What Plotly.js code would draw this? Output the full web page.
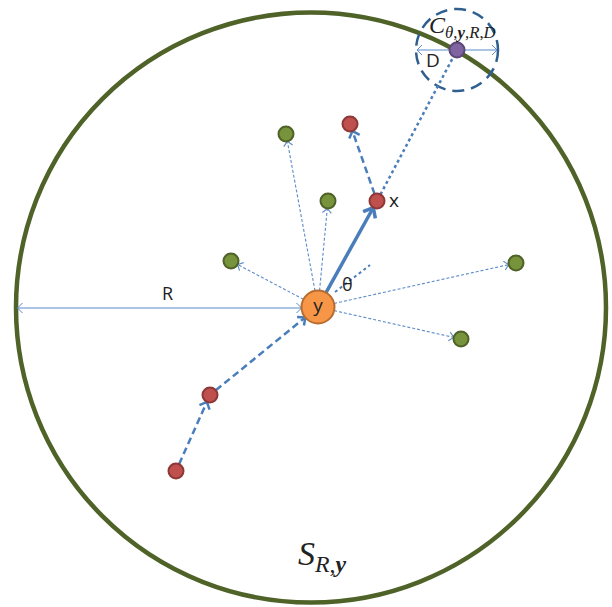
<!DOCTYPE html>
<html><head><meta charset="utf-8">
<script src="https://cdn.plot.ly/plotly-3.0.1.min.js"></script>
<style>html,body{margin:0;padding:0;background:#fff}</style>
</head><body><div id="chart" style="width:612px;height:607px"></div>
<script>
// Diagram coordinates (pixel-like units, y grows downward)
const sphereCenter = [311, 307.5];
const sphereRadius = 295;
const centerPoint = [318, 307];      // y
const centerRadius = 16.5;
const greenX = [286, 328, 231, 516, 461];
const greenY = [134, 201, 261, 263, 339];
const walkX = [176, 210];            // earlier red points leading to y
const walkY = [471, 395];
const xPoint = [377, 201];           // x
const jumpPoint = [350, 124];        // next red point
const capPoint = [457, 50];          // purple point on sphere
const capRadius = 41;
const thetaRay = [[335, 292], [370, 265]];
const pointRadius = 7.5;

const BLUE = '#4A7EBB', LBLUE = '#5B8BC9', CAPBLUE = '#2F5F8F';
const GREEN = '#77933C', GREEN_D = '#4F6228';
const RED = '#C0504D', RED_D = '#8C3836';

const traces = [];

function seg(p, q, r0, r1) {
  const dx = q[0] - p[0], dy = q[1] - p[1];
  const L = Math.hypot(dx, dy), ux = dx / L, uy = dy / L;
  return [[p[0] + ux * r0, p[1] + uy * r0], [q[0] - ux * r1, q[1] - uy * r1]];
}
function shorten(s, b) { return seg(s[0], s[1], 0, b); }
function addLine(s, width, dash, color) {
  traces.push({x: [s[0][0], s[1][0]], y: [s[0][1], s[1][1]], mode: 'lines', hoverinfo: 'skip',
               line: {color: color, width: width, dash: dash}});
}
// open chevron head at tip s[1], pointing from s[0] to s[1]
function addHead(s, len, half, width, color) {
  const dx = s[1][0] - s[0][0], dy = s[1][1] - s[0][1];
  const L = Math.hypot(dx, dy), ux = dx / L, uy = dy / L;
  const t = s[1], bx = t[0] - ux * len, by = t[1] - uy * len;
  traces.push({x: [bx - uy * half, t[0], bx + uy * half], y: [by + ux * half, t[1], by - ux * half],
               mode: 'lines', hoverinfo: 'skip', line: {color: color, width: width, dash: 'solid'}});
}

// thin dashed arrows y -> green points
for (let i = 0; i < greenX.length; i++) {
  const s = seg(centerPoint, [greenX[i], greenY[i]], centerRadius, pointRadius);
  addLine(shorten(s, 1), 1.1, '3px,2px', LBLUE);
  addHead(s, 4.5, 4.5, 1.1, LBLUE);
}
// dashed walk: red -> red -> y
const walk = [[walkX[0], walkY[0]], [walkX[1], walkY[1]]];
const s1 = seg(walk[0], walk[1], pointRadius, pointRadius);
const s2 = seg(walk[1], centerPoint, pointRadius, centerRadius);
const s3 = seg(xPoint, jumpPoint, pointRadius, pointRadius);
[s1, s2, s3].forEach(s => { addLine(shorten(s, 1.5), 2.5, '7px,4px', BLUE); addHead(s, 6, 5.5, 2.5, BLUE); });
// dotted x -> cap point
addLine(seg(xPoint, capPoint, pointRadius, pointRadius), 2.5, 'dot', BLUE);
// theta ray
addLine(thetaRay, 2, 'dot', BLUE);
// solid thick y -> x
const s5 = seg(centerPoint, xPoint, centerRadius, pointRadius);
addLine(shorten(s5, 2.5), 3.5, 'solid', BLUE);
addHead(s5, 8.5, 7, 3.5, BLUE);
// R double arrow
const rSeg = [[sphereCenter[0] - sphereRadius + 1.5, centerPoint[1] + 1], [centerPoint[0] - centerRadius, centerPoint[1] + 1]];
addLine(rSeg, 1, 'solid', LBLUE);
addHead(rSeg, 5, 5, 1, LBLUE);
addHead([rSeg[1], rSeg[0]], 5, 5, 1, LBLUE);
// D double arrow
const dSeg = [[capPoint[0] - capRadius + 1, capPoint[1]], [capPoint[0] + capRadius - 1, capPoint[1]]];
addLine(dSeg, 1, 'solid', LBLUE);
addHead(dSeg, 5, 5, 1, LBLUE);
addHead([dSeg[1], dSeg[0]], 5, 5, 1, LBLUE);

// points
traces.push({x: greenX, y: greenY, mode: 'markers', hoverinfo: 'skip',
  marker: {size: 15, color: GREEN, line: {color: GREEN_D, width: 2}}});
traces.push({x: walkX.concat([xPoint[0], jumpPoint[0]]), y: walkY.concat([xPoint[1], jumpPoint[1]]), mode: 'markers', hoverinfo: 'skip',
  marker: {size: 15, color: RED, line: {color: RED_D, width: 2}}});
traces.push({x: [capPoint[0]], y: [capPoint[1]], mode: 'markers', hoverinfo: 'skip',
  marker: {size: 15, color: '#8064A2', line: {color: '#5C4776', width: 2}}});
traces.push({x: [centerPoint[0]], y: [centerPoint[1]], mode: 'markers+text', text: ['y'], textposition: 'middle center',
  textfont: {family: 'Open Sans, Liberation Sans, sans-serif', size: 19, color: '#222'}, hoverinfo: 'skip',
  marker: {size: 33, color: '#F79646', line: {color: '#B66D31', width: 2}}});

const sans = 'Open Sans, Liberation Sans, sans-serif';
const serif = 'Liberation Serif, DejaVu Serif, serif';
function label(x, y, text, size, family) {
  return {x: x, y: y, xref: 'x', yref: 'y', text: text, showarrow: false,
          font: {family: family || sans, size: size, color: '#222'}};
}
const anns = [
  label(xPoint[0] + 17, xPoint[1] - 1, 'x', 19),
  label(347, 284, 'θ', 18),
  label(167, 293, 'R', 18),
  label(433, 60, 'D', 19),
  label(462, 27, '<i>C</i><sub><i>θ</i>,<b><i>y</i></b>,<i>R</i>,<i>D</i></sub>', 24, serif),
  label(322, 556, '<i>S</i><sub><i>R</i>,<b><i>y</i></b></sub>', 34, serif)
];

const layout = {
  width: 612, height: 607, margin: {l: 0, r: 0, t: 0, b: 0},
  paper_bgcolor: '#fff', plot_bgcolor: '#fff', showlegend: false,
  xaxis: {range: [0, 612], visible: false},
  yaxis: {range: [607, 0], visible: false},
  shapes: [
    {type: 'circle', xref: 'x', yref: 'y', layer: 'below',
     x0: sphereCenter[0] - sphereRadius, x1: sphereCenter[0] + sphereRadius,
     y0: sphereCenter[1] - sphereRadius, y1: sphereCenter[1] + sphereRadius,
     line: {color: GREEN_D, width: 4.5}},
    {type: 'circle', xref: 'x', yref: 'y', layer: 'below',
     x0: capPoint[0] - capRadius, x1: capPoint[0] + capRadius,
     y0: capPoint[1] - capRadius, y1: capPoint[1] + capRadius,
     line: {color: CAPBLUE, width: 2.5, dash: '12px,7px'}}
  ],
  annotations: anns
};
Plotly.newPlot('chart', traces, layout, {staticPlot: true, displayModeBar: false});
</script></body></html>
